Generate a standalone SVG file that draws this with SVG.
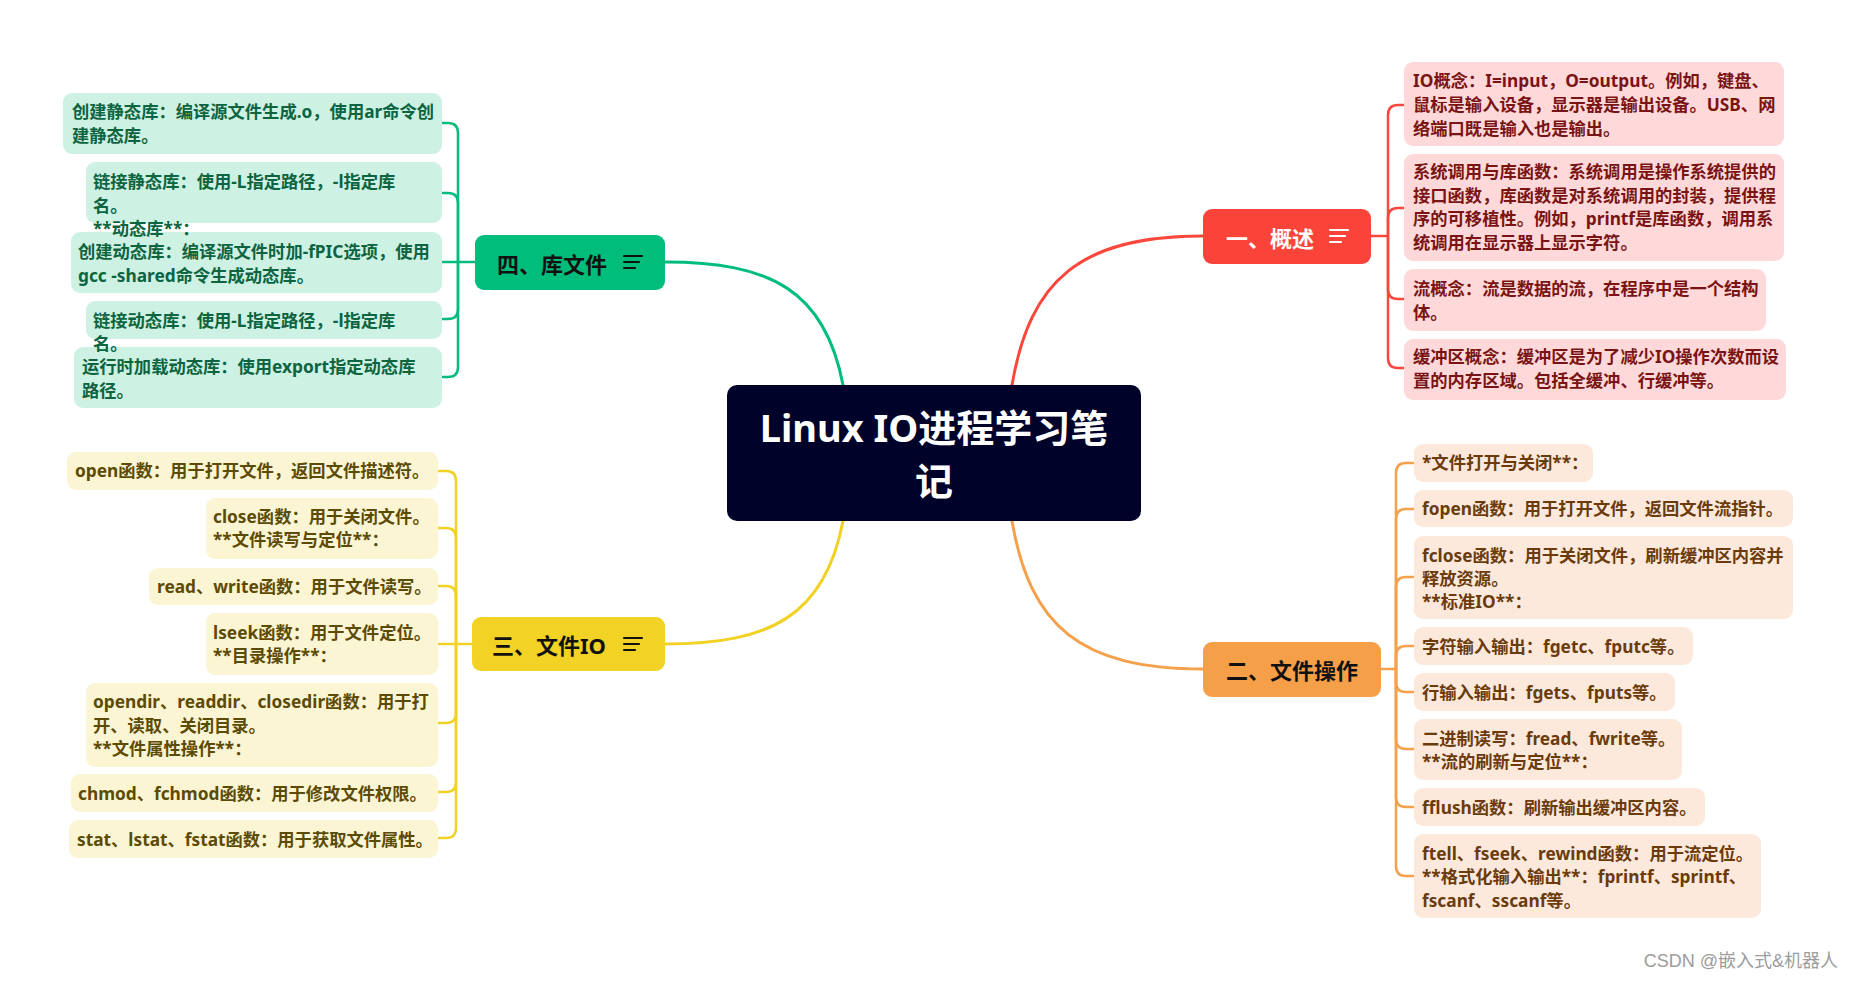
<svg xmlns="http://www.w3.org/2000/svg" width="1856" height="981" viewBox="0 0 1856 981">
<style>
.t{font-family:"Noto Sans","Noto Sans CJK SC",sans-serif;font-weight:bold;font-size:17.3px}
.nt{font-family:"Noto Sans","Noto Sans CJK SC",sans-serif;font-weight:bold;font-size:22px}
.title{font-family:"Noto Sans","Noto Sans CJK SC",sans-serif;font-weight:bold;font-size:38px;fill:#fff}
.rb{fill:#ffd9d9}.rt{fill:#7a1414}
.ob{fill:#fde9dc}.ot{fill:#6b3b0c}
.gb{fill:#cdf1e3}.gt{fill:#0c6440}
.yb{fill:#fcf5d3}.yt{fill:#5c4b05}
.main{fill:none;stroke-width:3;stroke-linecap:round}
.br{fill:none;stroke-width:2.5}
.ic{stroke-width:2.2;stroke-linecap:round}
</style>
<rect width="1856" height="981" fill="#fff"/>
<g id="connectors">
  <path class="main" stroke="#f9473c" d="M1012,385 C1030,280 1080,236 1203,236"/>
  <path class="main" stroke="#f5a04a" d="M1012,521 C1030,626 1080,669 1203,669"/>
  <path class="main" stroke="#00bd7b" d="M843,385 C825,290 770,262 665,262"/>
  <path class="main" stroke="#f0d124" d="M843,521 C825,616 770,644 665,644"/>
  <g class="br" stroke="#f9473c">
    <path d="M1371,236 L1388,236"/>
    <path d="M1388,236 L1388,115 Q1388,105 1398,105 L1404,105"/>
    <path d="M1388,236 L1388,218 Q1388,208 1398,208 L1404,208"/>
    <path d="M1388,236 L1388,289 Q1388,299 1398,299 L1404,299"/>
    <path d="M1388,236 L1388,358 Q1388,368 1398,368 L1404,368"/>
  </g>
  <g class="br" stroke="#f5a04a">
    <path d="M1381,669 L1396,669"/>
    <path d="M1396,669 L1396,473 Q1396,463 1406,463 L1414,463"/>
    <path d="M1396,669 L1396,519 Q1396,509 1406,509 L1414,509"/>
    <path d="M1396,669 L1396,587 Q1396,577 1406,577 L1414,577"/>
    <path d="M1396,669 L1396,656 Q1396,646 1406,646 L1414,646"/>
    <path d="M1396,669 L1396,682 Q1396,692 1406,692 L1414,692"/>
    <path d="M1396,669 L1396,739 Q1396,749 1406,749 L1414,749"/>
    <path d="M1396,669 L1396,797 Q1396,807 1406,807 L1414,807"/>
    <path d="M1396,669 L1396,866 Q1396,876 1406,876 L1414,876"/>
  </g>
  <g class="br" stroke="#00bd7b">
    <path d="M475,262 L442,262"/>
    <path d="M458,262 L458,133 Q458,123 448,123 L442,123"/>
    <path d="M458,262 L458,203 Q458,193 448,193 L442,193"/>
    <path d="M458,262 L458,309 Q458,319 448,319 L442,319"/>
    <path d="M458,262 L458,367 Q458,377 448,377 L442,377"/>
  </g>
  <g class="br" stroke="#f0d124">
    <path d="M472,644 L438,644"/>
    <path d="M456,644 L456,481 Q456,471 446,471 L438,471"/>
    <path d="M456,644 L456,538 Q456,528 446,528 L438,528"/>
    <path d="M456,644 L456,596 Q456,586 446,586 L438,586"/>
    <path d="M456,644 L456,713 Q456,723 446,723 L438,723"/>
    <path d="M456,644 L456,782 Q456,792 446,792 L438,792"/>
    <path d="M456,644 L456,828 Q456,838 446,838 L438,838"/>
  </g>
</g>

<g id="central">
  <rect x="727" y="385" width="414" height="136" rx="10" fill="#000229"/>
  <text class="title" x="934" y="442" text-anchor="middle">Linux IO进程学习笔</text>
  <text class="title" x="934" y="495" text-anchor="middle">记</text>
</g>

<g id="node-overview">
  <rect x="1203" y="209" width="168" height="55" rx="9" fill="#fa4439"/>
  <text class="nt" x="1226" y="247" fill="#fff">一、概述</text>
  <g class="ic" stroke="#fff"><path d="M1330,230 H1348 M1330,236 H1345 M1330,242 H1341"/></g>
</g>
<g id="node-fileops">
  <rect x="1203" y="642" width="178" height="55" rx="9" fill="#f5a049"/>
  <text class="nt" x="1226" y="679" fill="#111">二、文件操作</text>
</g>
<g id="node-fileio">
  <rect x="472" y="617" width="193" height="54" rx="9" fill="#f2d225"/>
  <text class="nt" x="492" y="654" fill="#111">三、文件IO</text>
  <g class="ic" stroke="#111"><path d="M624,638 H642 M624,644 H639 M624,650 H635"/></g>
</g>
<g id="node-lib">
  <rect x="475" y="235" width="190" height="55" rx="9" fill="#00bd7b"/>
  <text class="nt" x="497" y="273" fill="#111">四、库文件</text>
  <g class="ic" stroke="#111"><path d="M624,256 H642 M624,262 H639 M624,268 H635"/></g>
</g>

<g id="r1"><rect class="rb" x="1404" y="62" width="380" height="84" rx="9"/>
  <text class="t rt"><tspan x="1413" y="87">IO概念：I=input，O=output。例如，键盘、</tspan><tspan x="1413" y="111">鼠标是输入设备，显示器是输出设备。USB、网</tspan><tspan x="1413" y="135">络端口既是输入也是输出。</tspan></text></g>
<g id="r2"><rect class="rb" x="1404" y="154" width="380" height="107" rx="9"/>
  <text class="t rt"><tspan x="1413" y="178">系统调用与库函数：系统调用是操作系统提供的</tspan><tspan x="1413" y="202">接口函数，库函数是对系统调用的封装，提供程</tspan><tspan x="1413" y="225">序的可移植性。例如，printf是库函数，调用系</tspan><tspan x="1413" y="249">统调用在显示器上显示字符。</tspan></text></g>
<g id="r3"><rect class="rb" x="1404" y="269" width="362" height="62" rx="9"/>
  <text class="t rt"><tspan x="1413" y="295">流概念：流是数据的流，在程序中是一个结构</tspan><tspan x="1413" y="319">体。</tspan></text></g>
<g id="r4"><rect class="rb" x="1404" y="339" width="382" height="61" rx="9"/>
  <text class="t rt"><tspan x="1413" y="363">缓冲区概念：缓冲区是为了减少IO操作次数而设</tspan><tspan x="1413" y="387">置的内存区域。包括全缓冲、行缓冲等。</tspan></text></g>

<g id="o8"><rect class="ob" x="1414" y="834" width="347" height="84" rx="9"/>
  <text class="t ot"><tspan x="1422" y="860">ftell、fseek、rewind函数：用于流定位。</tspan><tspan x="1422" y="883">**格式化输入输出**：fprintf、sprintf、</tspan><tspan x="1422" y="907">fscanf、sscanf等。</tspan></text></g>
<g id="o7"><rect class="ob" x="1414" y="788" width="291" height="38" rx="9"/>
  <text class="t ot" x="1422" y="814">fflush函数：刷新输出缓冲区内容。</text></g>
<g id="o6"><rect class="ob" x="1414" y="719" width="268" height="61" rx="9"/>
  <text class="t ot"><tspan x="1422" y="745">二进制读写：fread、fwrite等。</tspan><tspan x="1422" y="768">**流的刷新与定位**：</tspan></text></g>
<g id="o5"><rect class="ob" x="1414" y="673" width="261" height="38" rx="9"/>
  <text class="t ot" x="1422" y="699">行输入输出：fgets、fputs等。</text></g>
<g id="o4"><rect class="ob" x="1414" y="627" width="279" height="38" rx="9"/>
  <text class="t ot" x="1422" y="653">字符输入输出：fgetc、fputc等。</text></g>
<g id="o3"><rect class="ob" x="1414" y="536" width="379" height="83" rx="9"/>
  <text class="t ot"><tspan x="1422" y="562">fclose函数：用于关闭文件，刷新缓冲区内容并</tspan><tspan x="1422" y="585">释放资源。</tspan><tspan x="1422" y="608">**标准IO**：</tspan></text></g>
<g id="o2"><rect class="ob" x="1414" y="490" width="379" height="37" rx="9"/>
  <text class="t ot" x="1422" y="515">fopen函数：用于打开文件，返回文件流指针。</text></g>
<g id="o1"><rect class="ob" x="1414" y="444" width="179" height="38" rx="9"/>
  <text class="t ot" x="1422" y="469">*文件打开与关闭**：</text></g>

<g id="g5"><rect class="gb" x="74" y="347" width="368" height="61" rx="9"/>
  <text class="t gt"><tspan x="82" y="373">运行时加载动态库：使用export指定动态库</tspan><tspan x="82" y="397">路径。</tspan></text></g>
<g id="g4"><rect class="gb" x="86" y="301" width="356" height="38" rx="9"/>
  <text class="t gt"><tspan x="93" y="327">链接动态库：使用-L指定路径，-l指定库</tspan><tspan x="93" y="350">名。</tspan></text></g>
<g id="g3"><rect class="gb" x="71" y="232" width="371" height="61" rx="9"/>
  <text class="t gt"><tspan x="78" y="258">创建动态库：编译源文件时加-fPIC选项，使用</tspan><tspan x="78" y="282">gcc -shared命令生成动态库。</tspan></text></g>
<g id="g2"><rect class="gb" x="86" y="162" width="356" height="61" rx="9"/>
  <text class="t gt"><tspan x="93" y="188">链接静态库：使用-L指定路径，-l指定库</tspan><tspan x="93" y="212">名。</tspan><tspan x="93" y="235">**动态库**：</tspan></text></g>
<g id="g1"><rect class="gb" x="63" y="93" width="379" height="61" rx="9"/>
  <text class="t gt"><tspan x="72" y="118">创建静态库：编译源文件生成.o，使用ar命令创</tspan><tspan x="72" y="142">建静态库。</tspan></text></g>

<g id="y7"><rect class="yb" x="69" y="820" width="369" height="38" rx="9"/>
  <text class="t yt" x="77" y="846">stat、lstat、fstat函数：用于获取文件属性。</text></g>
<g id="y6"><rect class="yb" x="71" y="774" width="367" height="38" rx="9"/>
  <text class="t yt" x="78" y="800">chmod、fchmod函数：用于修改文件权限。</text></g>
<g id="y5"><rect class="yb" x="86" y="683" width="352" height="84" rx="9"/>
  <text class="t yt"><tspan x="93" y="708">opendir、readdir、closedir函数：用于打</tspan><tspan x="93" y="732">开、读取、关闭目录。</tspan><tspan x="93" y="755">**文件属性操作**：</tspan></text></g>
<g id="y4"><rect class="yb" x="206" y="613" width="232" height="62" rx="9"/>
  <text class="t yt"><tspan x="213" y="639">lseek函数：用于文件定位。</tspan><tspan x="213" y="662">**目录操作**：</tspan></text></g>
<g id="y3"><rect class="yb" x="149" y="568" width="289" height="37" rx="9"/>
  <text class="t yt" x="157" y="593">read、write函数：用于文件读写。</text></g>
<g id="y2"><rect class="yb" x="206" y="498" width="232" height="61" rx="9"/>
  <text class="t yt"><tspan x="213" y="523">close函数：用于关闭文件。</tspan><tspan x="213" y="546">**文件读写与定位**：</tspan></text></g>
<g id="y1"><rect class="yb" x="67" y="452" width="371" height="38" rx="9"/>
  <text class="t yt" x="75" y="477">open函数：用于打开文件，返回文件描述符。</text></g>

<text x="1838" y="967" text-anchor="end" font-family="Liberation Sans,Noto Sans CJK SC,sans-serif" font-size="18" fill="#9c9c9c">CSDN @嵌入式&amp;机器人</text>
</svg>
